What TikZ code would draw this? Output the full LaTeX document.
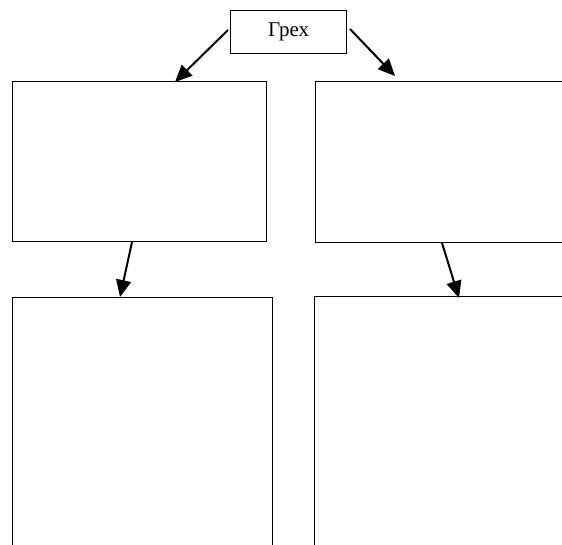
\documentclass[tikz,border=0pt]{standalone}
\usepackage{fontspec}
\setmainfont{Liberation Serif}
\usetikzlibrary{arrows.meta}
\begin{document}
\begin{tikzpicture}[x=1pt,y=-1pt,
  box/.style={draw, line width=1.3pt, inner sep=0pt, anchor=north west},
  arr/.style={line width=2pt, -{Triangle[length=17pt,width=15pt]}}]
\useasboundingbox (0,0) rectangle (562,544);
\clip (0,0) rectangle (562,544);
\node[box, minimum width=116pt, minimum height=43pt, font=\fontsize{21}{25}\selectfont] (sin) at (230,10) {Грех};
\node[box, minimum width=254pt, minimum height=160pt] (tl) at (12,81) {};
\node[box, minimum width=300pt, minimum height=161pt] (tr) at (315,81) {};
\node[box, minimum width=260pt, minimum height=300pt] (bl) at (12,297) {};
\node[box, minimum width=300pt, minimum height=300pt] (br) at (314,296) {};
\coordinate (a1s) at (228,30);
\coordinate (a1e) at (175,82);
\coordinate (a2s) at (350,29);
\coordinate (a2e) at (395,76);
\coordinate (a3s) at (132,242);
\coordinate (a3e) at (120,297);
\coordinate (a4s) at (442,243);
\coordinate (a4e) at (459,298);
\draw[arr] (a1s) -- (a1e);
\draw[arr] (a2s) -- (a2e);
\draw[arr] (a3s) -- (a3e);
\draw[arr] (a4s) -- (a4e);
\end{tikzpicture}
\end{document}
